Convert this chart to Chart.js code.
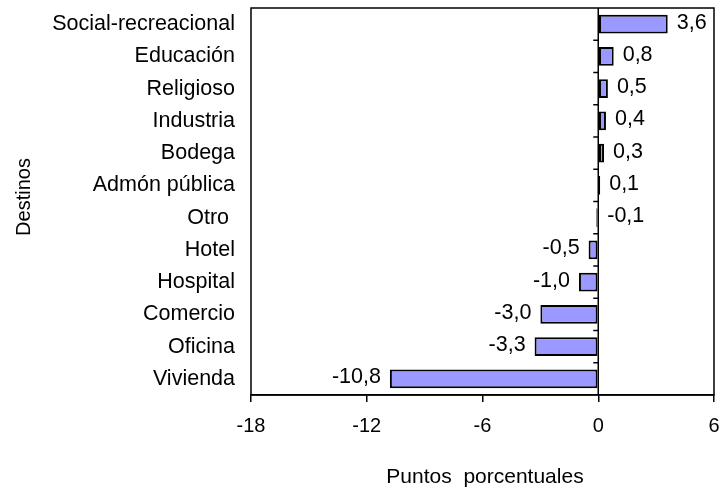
<!DOCTYPE html>
<html>
<head>
<meta charset="utf-8">
<script src="https://cdn.jsdelivr.net/npm/chart.js@4"></script>
<style>
  body { margin: 0; background: #fff; }
  canvas { display: block; }
</style>
</head>
<body>
<canvas id="chart" width="721" height="489"></canvas>
<script>
// Destinos y variación en puntos porcentuales
const categories = ["Social-recreacional", "Educación", "Religioso", "Industria", "Bodega",
  "Admón pública", "Otro ", "Hotel", "Hospital", "Comercio", "Oficina", "Vivienda"];
const values = [3.6, 0.8, 0.5, 0.4, 0.3, 0.1, -0.1, -0.5, -1.0, -3.0, -3.3, -10.8];
const xTicks = [-18, -12, -6, 0, 6];
const xTitle = "Puntos  porcentuales";
const yTitle = "Destinos";

const FONT = "'Liberation Sans', Arial, sans-serif";

const fmt = (v) => v.toFixed(1).replace(".", ",");

// frame, zero line, labels and titles
const extras = {
  id: "extras",
  afterDatasetsDraw(chart) {
    const ctx = chart.ctx;
    const area = chart.chartArea;
    const x = chart.scales.x;
    const y = chart.scales.y;
    const x0 = x.getPixelForValue(0);

    ctx.save();
    ctx.strokeStyle = "#000";
    ctx.lineWidth = 1.5;
    ctx.strokeRect(area.left, area.top, area.right - area.left, area.bottom - area.top);

    // zero line with category ticks
    ctx.beginPath();
    ctx.moveTo(x0, area.top);
    ctx.lineTo(x0, area.bottom);
    const step = (area.bottom - area.top) / categories.length;
    for (let i = 1; i < categories.length; i++) {
      const yy = area.top + i * step;
      ctx.moveTo(x0 - 5, yy);
      ctx.lineTo(x0, yy);
    }
    ctx.stroke();

    // value labels
    ctx.fillStyle = "#000";
    ctx.font = "21.5px " + FONT;
    ctx.textBaseline = "middle";
    values.forEach((v, i) => {
      const cy = y.getPixelForValue(i) - 1.5;
      const end = x.getPixelForValue(v);
      if (v > -0.2) {
        ctx.textAlign = "left";
        ctx.fillText(fmt(v), Math.max(end, x0) + 9, cy);
      } else {
        ctx.textAlign = "right";
        ctx.fillText(fmt(v), end - 9, cy);
      }
    });

    // axis titles
    ctx.font = "21px " + FONT;
    ctx.textAlign = "center";
    ctx.textBaseline = "alphabetic";
    ctx.fillText(xTitle, 485, 483);
    ctx.save();
    ctx.font = "20px " + FONT;
    ctx.translate(30, 197);
    ctx.rotate(-Math.PI / 2);
    ctx.fillText(yTitle, 0, 0);
    ctx.restore();
    ctx.restore();
  },
};

new Chart(document.getElementById("chart"), {
  type: "bar",
  data: {
    labels: categories,
    datasets: [
      {
        data: values,
        backgroundColor: "#9999ff",
        borderColor: "#000",
        borderWidth: 2,
        borderSkipped: false,
        barPercentage: 0.58,
        categoryPercentage: 1,
      },
    ],
  },
  options: {
    indexAxis: "y",
    responsive: false,
    animation: false,
    layout: { padding: { top: 8, right: 7, left: 0, bottom: 0 } },
    plugins: {
      legend: { display: false },
      tooltip: { enabled: false },
    },
    scales: {
      x: {
        min: -18,
        max: 6,
        afterBuildTicks: (s) => {
          s.ticks = xTicks.map((v) => ({ value: v }));
        },
        afterFit: (s) => {
          s.height = 94;
          s.paddingLeft = 0;
          s.paddingRight = 0;
        },
        ticks: {
          color: "#000",
          font: { family: FONT, size: 20 },
          padding: 12,
          maxRotation: 0,
        },
        grid: {
          drawOnChartArea: false,
          drawTicks: true,
          tickLength: 7,
          color: "#000",
          lineWidth: 1.5,
        },
        border: { display: true, color: "#000", width: 1.5 },
      },
      y: {
        afterFit: (s) => {
          s.width = 251;
          s.paddingTop = 0;
          s.paddingBottom = 0;
        },
        ticks: {
          color: "#000",
          font: { family: FONT, size: 21.5 },
          padding: 16,
        },
        grid: { display: false, drawTicks: false },
        border: { display: false },
      },
    },
  },
  plugins: [extras],
});
</script>
</body>
</html>
